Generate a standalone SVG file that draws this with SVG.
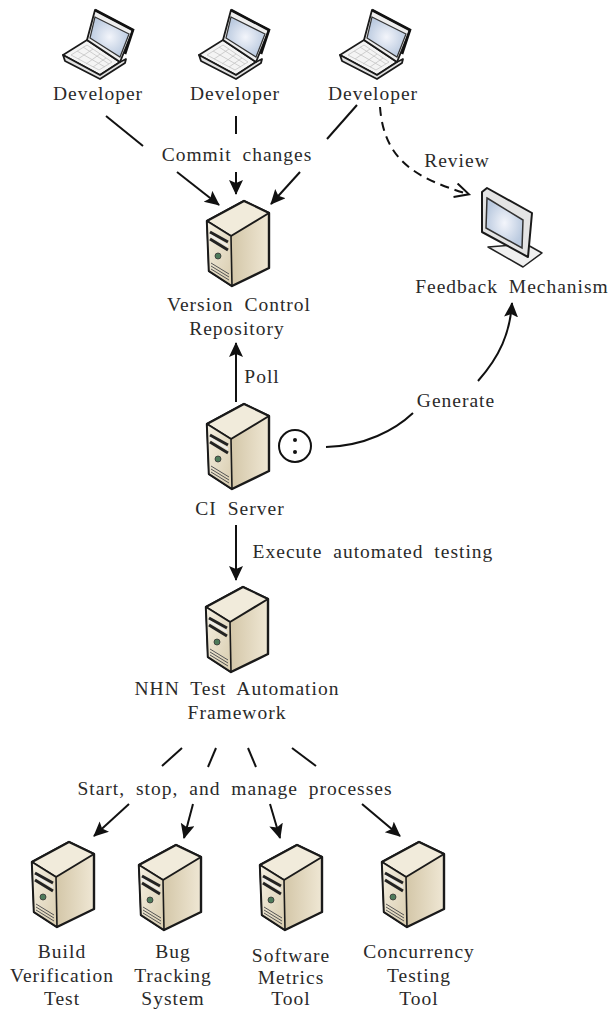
<svg xmlns="http://www.w3.org/2000/svg" width="613" height="1009" viewBox="0 0 613 1009">
<style>
text{font-family:"Liberation Serif","Times New Roman",serif;font-size:19.5px;fill:#2a2a2a;text-anchor:middle;letter-spacing:1px;word-spacing:5px}
.l{fill:none;stroke:#111;stroke-width:2}
.a{marker-end:url(#arr)}
</style>
<defs>
<marker id="arr" markerUnits="userSpaceOnUse" markerWidth="18" markerHeight="16" refX="14" refY="7" orient="auto"><path d="M0 0L15 7L0 14L3 7Z" fill="#111"/></marker>
<marker id="open" markerUnits="userSpaceOnUse" markerWidth="20" markerHeight="20" refX="14" refY="8" orient="auto"><path d="M1 1L15 8L1 15" fill="none" stroke="#111" stroke-width="2"/></marker>
<linearGradient id="sf" x1="0" y1="0" x2="1" y2="1"><stop offset="0" stop-color="#f5f0e2"/><stop offset="1" stop-color="#d8ccae"/></linearGradient>
<linearGradient id="sr" x1="0" y1="0" x2="1" y2="0"><stop offset="0" stop-color="#c2b28c"/><stop offset="1" stop-color="#efe7d4"/></linearGradient>
<radialGradient id="scr"><stop offset="0" stop-color="#f3f5fb"/><stop offset="1" stop-color="#bccbe0"/></radialGradient>
<g id="server">
<path d="M0 0L37 -20L62 -8L62 47L25 65L2 50Z" fill="url(#sr)" stroke="#1a1a1a" stroke-width="2.4" stroke-linejoin="round"/>
<path d="M0 0L37 -20L62 -8L24 15Z" fill="#f1ebdb" stroke="#1a1a1a" stroke-width="2" stroke-linejoin="round"/>
<path d="M0 0L24 15L25 65L2 50Z" fill="url(#sf)" stroke="#1a1a1a" stroke-width="1.6" stroke-linejoin="round"/>
<path d="M3 11L21 21M3 18L21 29" stroke="#222" stroke-width="3" fill="none"/>
<path d="M3 14L21 25" stroke="#eee" stroke-width="1.5" fill="none"/>
<circle cx="11" cy="35" r="3" fill="#4d7a5a" stroke="#333" stroke-width=".8"/>
<path d="M4 42L22 53M4 45L22 56M4 48L22 59" stroke="#555" stroke-width="1" fill="none"/>
</g>
<g id="laptop">
<path d="M1 46L25 31L58 53L38 66Z" fill="#f4f4f4" stroke="#1a1a1a" stroke-width="1.6" stroke-linejoin="round"/>
<path d="M1 46L3 52L38 70L63 54L64 50L58 53L38 66Z" fill="#e2e2e2" stroke="#1a1a1a" stroke-width="1.8" stroke-linejoin="round"/>
<path d="M9 46L25 36L50 53L37 61ZM15 42L43 58M21 38L47 55M16 50L31 40M24 55L38 45M31 58L44 49" fill="none" stroke="#c4c4c4" stroke-width=".8"/>
<path d="M25 31L33 1L71 21L58 53Z" fill="#eee" stroke="#1a1a1a" stroke-width="1.8" stroke-linejoin="round"/>
<path d="M33 8L67 25L58 48L28 29Z" fill="url(#scr)" stroke="#333" stroke-width="1.2"/>
<path d="M33 1L71 21L63 45" fill="none" stroke="#111" stroke-width="2.6"/>
</g>
</defs>

<g id="connectors">
<path class="l" d="M106 116L143 146"/>
<path class="l" d="M236 116V134"/>
<path class="l" d="M357 105L327 139"/>
<path class="l a" d="M177 172L219 205"/>
<path class="l a" d="M236 172V194"/>
<path class="l a" d="M300 172L271 204"/>
<path class="l" d="M380 107C384 160 415 178 468 194" stroke-dasharray="9 6" marker-end="url(#open)"/>
<path class="l a" d="M236 402V343"/>
<path class="l" d="M326 447C365 446 395 430 413 413"/>
<path class="l a" d="M478 381C500 356 510 333 512 303"/>
<path class="l a" d="M236 525V580"/>
<path class="l" d="M182 748L162 766"/>
<path class="l" d="M216 748L208 767"/>
<path class="l" d="M248 748L256 767"/>
<path class="l" d="M292 748L316 766"/>
<path class="l a" d="M129 804L94 836"/>
<path class="l a" d="M193 804L184 838"/>
<path class="l a" d="M270 804L280 838"/>
<path class="l a" d="M362 804L400 836"/>
</g>

<g id="dev1"><use href="#laptop" x="62" y="9"/><text x="98" y="100">Developer</text></g>
<g id="dev2"><use href="#laptop" x="198" y="9"/><text x="235" y="100">Developer</text></g>
<g id="dev3"><use href="#laptop" x="339" y="9"/><text x="373" y="100">Developer</text></g>
<g id="commit"><text x="237" y="161">Commit changes</text></g>
<g id="review"><text x="457" y="167">Review</text></g>
<g id="feedback">
<path d="M488 247L523 267L542 253L526 244Z" fill="#f0f0f0" stroke="#222" stroke-width="1.5" stroke-linejoin="round"/>
<path d="M482 192L487 188L532 213L528 257L482 232Z" fill="#e4e4e4" stroke="#1a1a1a" stroke-width="2" stroke-linejoin="round"/>
<path d="M487 198L523 220L522 248L486 228Z" fill="url(#scr)" stroke="#333" stroke-width="1.5"/>
<text x="512" y="293">Feedback Mechanism</text>
</g>
<g id="repo"><use href="#server" x="207" y="221"/><text x="239" y="311">Version Control</text><text x="237" y="335">Repository</text></g>
<g id="poll"><text x="262" y="383">Poll</text></g>
<g id="ci"><use href="#server" x="207" y="424"/><text x="240" y="515">CI Server</text>
<circle cx="295" cy="446" r="16" fill="#fff" stroke="#111" stroke-width="2"/><circle cx="295" cy="440" r="2" fill="#111"/><circle cx="295" cy="452" r="2" fill="#111"/></g>
<g id="generate"><text x="456" y="407">Generate</text></g>
<g id="execute"><text x="373" y="558">Execute automated testing</text></g>
<g id="nhn"><use href="#server" x="206" y="607"/><text x="237" y="695">NHN Test Automation</text><text x="237" y="719">Framework</text></g>
<g id="manage"><text x="235" y="795">Start, stop, and manage processes</text></g>
<g id="build"><use href="#server" x="32" y="862"/><text x="62" y="958">Build</text><text x="62" y="982">Verification</text><text x="62" y="1005">Test</text></g>
<g id="bug"><use href="#server" x="139" y="865"/><text x="173" y="958">Bug</text><text x="173" y="982">Tracking</text><text x="173" y="1005">System</text></g>
<g id="metrics"><use href="#server" x="260" y="865"/><text x="291" y="962">Software</text><text x="291" y="984">Metrics</text><text x="291" y="1005">Tool</text></g>
<g id="concurrency"><use href="#server" x="382" y="862"/><text x="419" y="958">Concurrency</text><text x="419" y="982">Testing</text><text x="419" y="1005">Tool</text></g>
</svg>
